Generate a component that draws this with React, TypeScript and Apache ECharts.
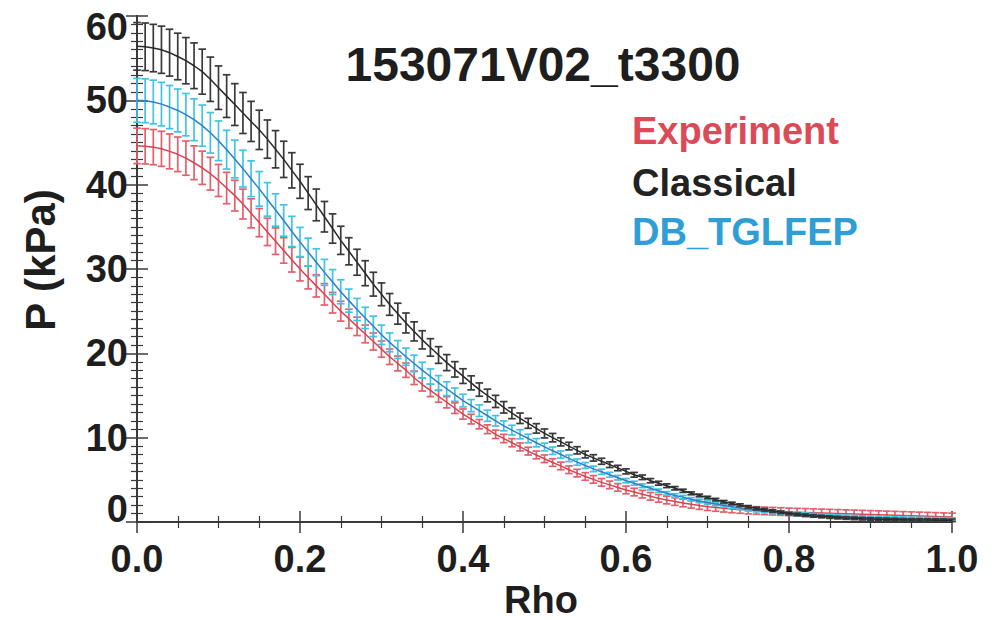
import React, { useEffect, useRef } from "react";
import * as echarts from "echarts";

const rho = [
  0, 0.01, 0.02, 0.03, 0.04, 0.05, 0.06, 0.07, 0.08, 0.09,
  0.1, 0.11, 0.12, 0.13, 0.14, 0.15, 0.16, 0.17, 0.18, 0.19,
  0.2, 0.21, 0.22, 0.23, 0.24, 0.25, 0.26, 0.27, 0.28, 0.29,
  0.3, 0.31, 0.32, 0.33, 0.34, 0.35, 0.36, 0.37, 0.38, 0.39,
  0.4, 0.41, 0.42, 0.43, 0.44, 0.45, 0.46, 0.47, 0.48, 0.49,
  0.5, 0.51, 0.52, 0.53, 0.54, 0.55, 0.56, 0.57, 0.58, 0.59,
  0.6, 0.61, 0.62, 0.63, 0.64, 0.65, 0.66, 0.67, 0.68, 0.69,
  0.7, 0.71, 0.72, 0.73, 0.74, 0.75, 0.76, 0.77, 0.78, 0.79,
  0.8, 0.81, 0.82, 0.83, 0.84, 0.85, 0.86, 0.87, 0.88, 0.89,
  0.9, 0.91, 0.92, 0.93, 0.94, 0.95, 0.96, 0.97, 0.98, 0.99, 1.0,
];

const experiment = [
  44.6, 44.55, 44.45, 44.25, 43.95, 43.6, 43.15, 42.6, 42.0, 41.3,
  40.5, 39.6, 38.7, 37.7, 36.6, 35.5, 34.4, 33.3, 32.2, 31.1,
  30.0, 29.0, 28.0, 27.0, 26.0, 25.0, 24.1, 23.2, 22.3, 21.4,
  20.5, 19.6, 18.8, 18.0, 17.1, 16.3, 15.6, 14.9, 14.2, 13.5,
  12.8, 12.2, 11.6, 11.0, 10.4, 9.9, 9.4, 8.9, 8.4, 7.95,
  7.5, 7.05, 6.65, 6.2, 5.8, 5.4, 5.05, 4.7, 4.4, 4.1,
  3.8, 3.55, 3.3, 3.05, 2.8, 2.6, 2.42, 2.25, 2.1, 1.95,
  1.82, 1.72, 1.63, 1.55, 1.48, 1.42, 1.37, 1.32, 1.28, 1.24,
  1.2, 1.17, 1.14, 1.11, 1.08, 1.05, 1.02, 0.99, 0.96, 0.93,
  0.9, 0.87, 0.84, 0.81, 0.78, 0.75, 0.72, 0.69, 0.66, 0.63, 0.6,
];
const experimentErr = [
  2.1, 2.09, 2.09, 2.08, 2.07, 2.05, 2.03, 2.0, 1.97, 1.94,
  1.9, 1.86, 1.82, 1.77, 1.72, 1.67, 1.62, 1.57, 1.51, 1.46,
  1.41, 1.36, 1.32, 1.27, 1.22, 1.18, 1.13, 1.09, 1.05, 1.01,
  0.96, 0.92, 0.88, 0.85, 0.8, 0.77, 0.73, 0.7, 0.67, 0.63,
  0.6, 0.57, 0.55, 0.52, 0.5, 0.49, 0.48, 0.47, 0.46, 0.46,
  0.45, 0.45, 0.45, 0.45, 0.45, 0.45, 0.45, 0.45, 0.45, 0.45,
  0.45, 0.45, 0.45, 0.45, 0.45, 0.45, 0.45, 0.45, 0.45, 0.45,
  0.45, 0.45, 0.45, 0.45, 0.45, 0.45, 0.45, 0.45, 0.45, 0.45,
  0.45, 0.45, 0.45, 0.45, 0.45, 0.45, 0.45, 0.45, 0.45, 0.45,
  0.45, 0.45, 0.45, 0.45, 0.45, 0.45, 0.45, 0.45, 0.45, 0.45, 0.45,
];

const classical = [
  56.4, 56.35, 56.2, 56.0, 55.65, 55.2, 54.7, 54.1, 53.4, 52.5,
  51.5, 50.5, 49.5, 48.5, 47.5, 46.5, 45.4, 44.2, 43.0, 41.7,
  40.4, 39.0, 37.6, 36.2, 34.8, 33.4, 32.1, 30.8, 29.5, 28.2,
  27.0, 25.8, 24.7, 23.6, 22.6, 21.6, 20.7, 19.8, 18.9, 18.1,
  17.3, 16.5, 15.7, 15.0, 14.3, 13.6, 12.9, 12.3, 11.7, 11.1,
  10.5, 10.0, 9.5, 9.0, 8.5, 8.0, 7.6, 7.2, 6.8, 6.4,
  6.0, 5.6, 5.3, 4.9, 4.6, 4.3, 4.0, 3.7, 3.4, 3.15,
  2.9, 2.65, 2.4, 2.2, 2.0, 1.8, 1.6, 1.45, 1.3, 1.15,
  1.0, 0.9, 0.8, 0.72, 0.65, 0.58, 0.52, 0.47, 0.43, 0.39,
  0.36, 0.33, 0.31, 0.29, 0.27, 0.25, 0.24, 0.23, 0.22, 0.21, 0.2,
];
const classicalErr = [
  2.82, 2.82, 2.81, 2.8, 2.78, 2.76, 2.74, 2.71, 2.67, 2.63,
  2.58, 2.53, 2.48, 2.43, 2.38, 2.33, 2.27, 2.21, 2.15, 2.09,
  2.02, 1.95, 1.88, 1.81, 1.74, 1.67, 1.61, 1.54, 1.48, 1.41,
  1.35, 1.29, 1.24, 1.18, 1.13, 1.08, 1.04, 0.99, 0.95, 0.91,
  0.87, 0.83, 0.79, 0.75, 0.72, 0.68, 0.65, 0.62, 0.59, 0.56,
  0.53, 0.5, 0.48, 0.45, 0.43, 0.4, 0.38, 0.36, 0.34, 0.32,
  0.3, 0.28, 0.27, 0.25, 0.23, 0.22, 0.2, 0.19, 0.17, 0.16,
  0.15, 0.15, 0.15, 0.15, 0.15, 0.15, 0.15, 0.15, 0.15, 0.15,
  0.15, 0.15, 0.15, 0.15, 0.15, 0.15, 0.15, 0.15, 0.15, 0.15,
  0.15, 0.15, 0.15, 0.15, 0.15, 0.15, 0.15, 0.15, 0.15, 0.15, 0.15,
];

const dbTglfep = [
  50.0, 49.95, 49.8, 49.55, 49.2, 48.8, 48.3, 47.7, 47.0, 46.15,
  45.2, 44.15, 43.05, 41.9, 40.7, 39.5, 38.25, 37.0, 35.75, 34.45,
  33.2, 32.0, 30.8, 29.6, 28.45, 27.3, 26.25, 25.2, 24.2, 23.2,
  22.2, 21.3, 20.45, 19.6, 18.8, 18.0, 17.25, 16.5, 15.8, 15.1,
  14.4, 13.8, 13.2, 12.6, 12.0, 11.4, 10.9, 10.4, 9.9, 9.4,
  8.9, 8.45, 8.0, 7.55, 7.1, 6.7, 6.3, 5.95, 5.6, 5.25,
  4.9, 4.6, 4.3, 4.0, 3.7, 3.4, 3.15, 2.95, 2.7, 2.5,
  2.3, 2.13, 1.97, 1.82, 1.66, 1.5, 1.4, 1.3, 1.2, 1.1,
  1.0, 0.94, 0.88, 0.82, 0.76, 0.7, 0.66, 0.62, 0.58, 0.54,
  0.5, 0.48, 0.45, 0.43, 0.4, 0.38, 0.36, 0.35, 0.33, 0.32, 0.3,
];
const dbTglfepErr = [
  2.6, 2.6, 2.59, 2.58, 2.56, 2.54, 2.51, 2.48, 2.44, 2.4,
  2.35, 2.3, 2.24, 2.18, 2.12, 2.05, 1.99, 1.92, 1.86, 1.79,
  1.73, 1.66, 1.6, 1.54, 1.48, 1.42, 1.37, 1.31, 1.26, 1.21,
  1.15, 1.11, 1.06, 1.02, 0.98, 0.94, 0.9, 0.86, 0.82, 0.79,
  0.75, 0.72, 0.69, 0.66, 0.62, 0.59, 0.57, 0.54, 0.51, 0.49,
  0.46, 0.44, 0.42, 0.39, 0.37, 0.35, 0.33, 0.31, 0.29, 0.27,
  0.25, 0.24, 0.22, 0.2, 0.2, 0.2, 0.2, 0.2, 0.2, 0.2,
  0.2, 0.2, 0.2, 0.2, 0.2, 0.2, 0.2, 0.2, 0.2, 0.2,
  0.2, 0.2, 0.2, 0.2, 0.2, 0.2, 0.2, 0.2, 0.2, 0.2,
  0.2, 0.2, 0.2, 0.2, 0.2, 0.2, 0.2, 0.2, 0.2, 0.2, 0.2,
];

const xTicks = [0, 0.2, 0.4, 0.6, 0.8, 1.0];
const yTicks = [0, 10, 20, 30, 40, 50, 60];

const FONT = "'Liberation Sans', Arial, Helvetica, sans-serif";

function errSeries(name: string, vals: number[], errs: number[], color: string, z: number) {
  const data = rho.map((r, i) => [r, vals[i] - errs[i], vals[i] + errs[i]]);
  return {
    type: "custom",
    name,
    z,
    data,
    encode: { x: 0, y: [1, 2] },
    renderItem: (params: any, api: any) => {
      const x = api.value(0);
      const lo = api.coord([x, api.value(1)]);
      const hi = api.coord([x, api.value(2)]);
      const hw = 3.8;
      const style = { stroke: color, lineWidth: 1.7 };
      return {
        type: "group",
        children: [
          { type: "line", shape: { x1: lo[0], y1: lo[1], x2: hi[0], y2: hi[1] }, style },
          { type: "line", shape: { x1: lo[0] - hw, y1: lo[1], x2: lo[0] + hw, y2: lo[1] }, style },
          { type: "line", shape: { x1: hi[0] - hw, y1: hi[1], x2: hi[0] + hw, y2: hi[1] }, style },
        ],
      };
    },
  };
}

function lineSeries(name: string, vals: number[], color: string, z: number) {
  return {
    type: "line",
    name,
    z,
    data: rho.map((r, i) => [r, vals[i]]),
    showSymbol: false,
    lineStyle: { color, width: 1.5 },
  };
}

export default function App() {
  const ref = useRef<HTMLDivElement>(null);
  useEffect(() => {
    if (!ref.current) return;
    const chart = echarts.init(ref.current, undefined, { renderer: "svg" });
    const axisCommon = {
      type: "value",
      axisLine: { show: true, lineStyle: { color: "#3a3a3a", width: 2 } },
      axisTick: { show: true, inside: true, length: 11, lineStyle: { color: "#3a3a3a", width: 1.5 } },
      splitLine: { show: false },
    };
    const yMax = yTicks[yTicks.length - 1];
    const yMin = yTicks[0];
    chart.setOption({
      animation: false,
      backgroundColor: "#ffffff",
      grid: { left: 137, right: 43, top: 16, bottom: 98, containLabel: false },
      xAxis: [
        {
          ...axisCommon,
          position: "bottom",
          min: xTicks[0],
          max: xTicks[xTicks.length - 1],
          interval: 0.2,
          minorTick: { show: true, splitNumber: 4, length: 6, lineStyle: { color: "#3a3a3a", width: 1.2 } },
          axisLabel: {
            show: true,
            margin: 18,
            color: "#1e1e1e",
            fontFamily: FONT,
            fontWeight: "bold",
            fontSize: 38,
            formatter: (v: number) => v.toFixed(1),
          },
        },
        {
          ...axisCommon,
          position: "top",
          min: xTicks[0],
          max: xTicks[xTicks.length - 1],
          interval: 0.2,
          minorTick: { show: true, splitNumber: 4, length: 6, lineStyle: { color: "#3a3a3a", width: 1.2 } },
          axisLabel: { show: false },
        },
      ],
      yAxis: [
        {
          ...axisCommon,
          position: "left",
          min: yMin,
          max: yMax,
          interval: 10,
          minorTick: { show: true, splitNumber: 10, length: 6, lineStyle: { color: "#3a3a3a", width: 1.2 } },
          axisLabel: {
            show: true,
            margin: 9,
            color: "#1e1e1e",
            fontFamily: FONT,
            fontWeight: "bold",
            fontSize: 38,
            formatter: (v: number) =>
              v === yMax ? `{top|${v}}` : v === yMin ? `{bot|${v}}` : `${v}`,
            rich: {
              top: { fontFamily: FONT, fontWeight: "bold", fontSize: 38, color: "#1e1e1e", padding: [22, 0, 0, 0] },
              bot: { fontFamily: FONT, fontWeight: "bold", fontSize: 38, color: "#1e1e1e", padding: [0, 0, 26, 0] },
            },
          },
        },
        {
          ...axisCommon,
          position: "right",
          min: yMin,
          max: yMax,
          interval: 10,
          minorTick: { show: true, splitNumber: 10, length: 6, lineStyle: { color: "#3a3a3a", width: 1.2 } },
          axisLabel: { show: false },
        },
      ],
      series: [
        errSeries("Experiment", experiment, experimentErr, "#e2606e", 2),
        lineSeries("Experiment line", experiment, "#d9434f", 3),
        errSeries("DB_TGLFEP", dbTglfep, dbTglfepErr, "#40c4e6", 4),
        lineSeries("DB_TGLFEP line", dbTglfep, "#2f7fc6", 5),
        errSeries("Classical", classical, classicalErr, "#3a3a3a", 6),
        lineSeries("Classical line", classical, "#2a2a2a", 7),
      ],
      graphic: [
        {
          type: "text",
          x: 543,
          y: 64,
          style: {
            text: "153071V02_t3300",
            font: `bold 48px ${FONT}`,
            fill: "#1e1e1e",
            align: "center",
            verticalAlign: "middle",
          },
        },
        {
          type: "text",
          x: 632,
          y: 131,
          style: { text: "Experiment", font: `bold 38px ${FONT}`, fill: "#dc4a58", align: "left", verticalAlign: "middle" },
        },
        {
          type: "text",
          x: 632,
          y: 183,
          style: { text: "Classical", font: `bold 38px ${FONT}`, fill: "#222222", align: "left", verticalAlign: "middle" },
        },
        {
          type: "text",
          x: 632,
          y: 232,
          style: { text: "DB_TGLFEP", font: `bold 38px ${FONT}`, fill: "#2e9ed6", align: "left", verticalAlign: "middle" },
        },
        {
          type: "text",
          x: 541,
          y: 600,
          style: { text: "Rho", font: `bold 38px ${FONT}`, fill: "#1e1e1e", align: "center", verticalAlign: "middle" },
        },
        {
          type: "text",
          x: 40,
          y: 260,
          rotation: Math.PI / 2,
          style: { text: "P (kPa)", font: `bold 42px ${FONT}`, fill: "#1e1e1e", align: "center", verticalAlign: "middle" },
        },
      ],
    });
    return () => chart.dispose();
  }, []);
  return (
    <div
      ref={ref}
      style={{ position: "fixed", left: 0, top: 0, width: 995, height: 620, background: "#fff" }}
    />
  );
}
